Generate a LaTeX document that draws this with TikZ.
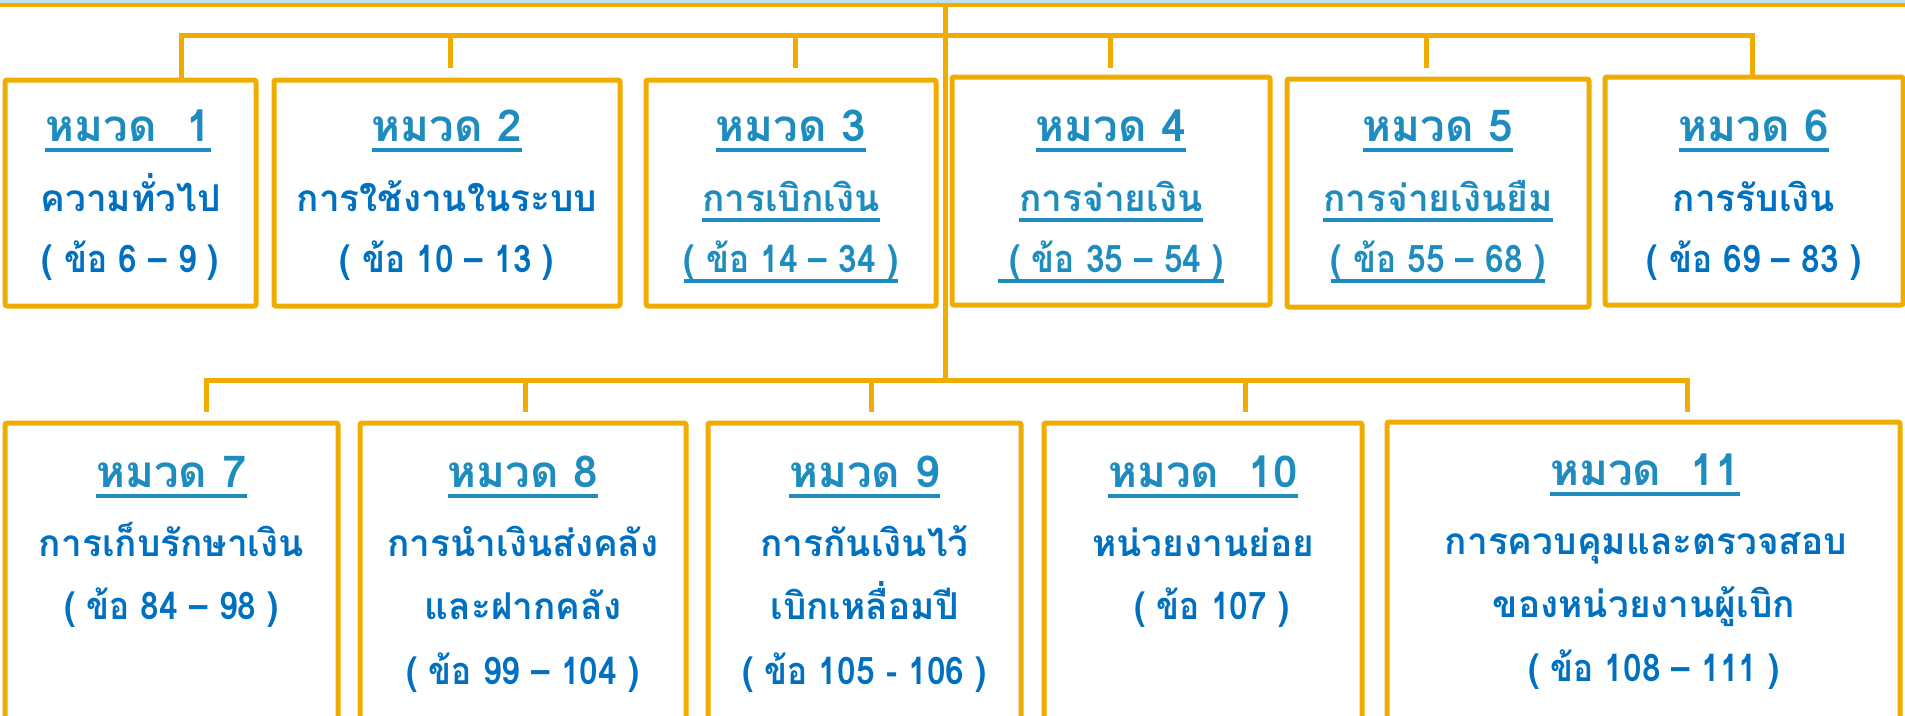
\documentclass[tikz,border=0pt]{standalone}
\usepackage{fontspec}
\newfontfamily\thai[Script=Thai]{Loma}
\newfontfamily\thaicn[Script=Thai,FakeStretch=0.88]{Loma}
\definecolor{orng}{HTML}{F0AD00}
\definecolor{tealc}{HTML}{1E8CBE}
\definecolor{bluec}{HTML}{0070C0}
\definecolor{skyc}{HTML}{BEE1EB}
\newcommand\uln[1]{\leavevmode\setbox0\hbox{#1}\rlap{\raisebox{-10.5pt}{\rule{\wd0}{3.2pt}}}\box0}
\tikzset{
  conn/.style={draw=orng, line width=5pt},
  boxs/.style={draw=orng, line width=5pt, fill=white, rounded corners=2pt, inner sep=0pt},
  topbar/.style={draw=orng, fill=skyc, line width=4pt, inner sep=0pt},
  ttl/.style={font=\thai\bfseries\fontsize{44}{50}\selectfont, text=tealc, anchor=base, inner sep=0pt},
  txt/.style={font=\thai\bfseries\fontsize{37}{44}\selectfont, text=bluec, anchor=base, inner sep=0pt},
  lnk/.style={font=\thai\bfseries\fontsize{37}{44}\selectfont, text=tealc, anchor=base, inner sep=0pt},
  num/.style={font=\thaicn\bfseries\fontsize{38}{44}\selectfont, text=bluec, anchor=base, inner sep=0pt},
  numl/.style={font=\thaicn\bfseries\fontsize{38}{44}\selectfont, text=tealc, anchor=base, inner sep=0pt}
}
\begin{document}
\begin{tikzpicture}[x=1pt,y=-1pt]
\useasboundingbox (0,0) rectangle (1905,715);
% top bar (cut off)
\node[topbar, minimum width=1960pt, minimum height=60pt, anchor=south] (top) at (952.5,7) {};
% row 1 boxes
\node[boxs, minimum width=251pt, minimum height=226pt] (b1) at (130.5,193) {};
\node[boxs, minimum width=346pt, minimum height=226pt] (b2) at (447,193) {};
\node[boxs, minimum width=290pt, minimum height=226pt] (b3) at (791,193) {};
\node[boxs, minimum width=318pt, minimum height=228pt] (b4) at (1111,191) {};
\node[boxs, minimum width=302pt, minimum height=228pt] (b5) at (1438,193) {};
\node[boxs, minimum width=298pt, minimum height=228pt] (b6) at (1754,191) {};
% row 2 boxes (cut off at the bottom)
\node[boxs, minimum width=333pt, minimum height=337pt] (b7) at (171.5,591.5) {};
\node[boxs, minimum width=326pt, minimum height=337pt] (b8) at (523,591.5) {};
\node[boxs, minimum width=313pt, minimum height=337pt] (b9) at (864.5,591.5) {};
\node[boxs, minimum width=318pt, minimum height=337pt] (b10) at (1203,591.5) {};
\node[boxs, minimum width=513pt, minimum height=339pt] (b11) at (1643.5,591.5) {};
% connectors
\coordinate (t0) at (945,7);
\coordinate (h1) at (945,35);
\coordinate (h2) at (945,380.5);
\coordinate (d1) at (181,35);
\coordinate (d2) at (450,35);
\coordinate (d3) at (795,35);
\coordinate (d4) at (1110,35);
\coordinate (d5) at (1426,35);
\coordinate (d6) at (1752,35);
\coordinate (e2) at (450,68);
\coordinate (e3) at (795,68);
\coordinate (e4) at (1110,68);
\coordinate (e5) at (1426,68);
\coordinate (d7) at (206,380.5);
\coordinate (d8) at (525,380.5);
\coordinate (d9) at (871,380.5);
\coordinate (d10) at (1245,380.5);
\coordinate (d11) at (1687,380.5);
\coordinate (e7) at (206,412);
\coordinate (e8) at (525,412);
\coordinate (e9) at (871,412);
\coordinate (e10) at (1245,412);
\coordinate (e11) at (1687,412);
\draw[conn] (t0) -- (h2);
\draw[conn] (d1 |- b1.north) -- (d1) -- (d6) -- (d6 |- b6.north);
\draw[conn] (d2) -- (e2);
\draw[conn] (d3) -- (e3);
\draw[conn] (d4) -- (e4);
\draw[conn] (d5) -- (e5);
\draw[conn] (e7) -- (d7) -- (d11) -- (e11);
\draw[conn] (d8) -- (e8);
\draw[conn] (d9) -- (e9);
\draw[conn] (d10) -- (e10);
% row 1 texts
\node[ttl] (t1a) at (128,141) {\uln{หมวด~~1}};
\node[txt] (t1b) at (130.5,211) {ความทั่วไป};
\node[num] (t1c) at (130.5,272) {( ข้อ 6 – 9 )};
\node[ttl] (t2a) at (447,141) {\uln{หมวด 2}};
\node[txt] (t2b) at (447,211) {การใช้งานในระบบ};
\node[num] (t2c) at (447,272) {( ข้อ 10 – 13 )};
\node[ttl] (t3a) at (791,141) {\uln{หมวด 3}};
\node[lnk] (t3b) at (791,211) {\uln{การเบิกเงิน}};
\node[numl] (t3c) at (791,272) {\uln{( ข้อ 14 – 34 )}};
\node[ttl] (t4a) at (1111,141) {\uln{หมวด 4}};
\node[lnk] (t4b) at (1111,211) {\uln{การจ่ายเงิน}};
\node[numl] (t4c) at (1111,272) {\uln{~( ข้อ 35 – 54 )}};
\node[ttl] (t5a) at (1438,141) {\uln{หมวด 5}};
\node[lnk] (t5b) at (1438,211) {\uln{การจ่ายเงินยืม}};
\node[numl] (t5c) at (1438,272) {\uln{( ข้อ 55 – 68 )}};
\node[ttl] (t6a) at (1754,141) {\uln{หมวด 6}};
\node[txt] (t6b) at (1754,211) {การรับเงิน};
\node[num] (t6c) at (1754,272) {( ข้อ 69 – 83 )};
% row 2 texts
\node[ttl] (t7a) at (171.5,487) {\uln{หมวด 7}};
\node[txt] (t7b) at (171.5,556) {การเก็บรักษาเงิน};
\node[num] (t7c) at (171.5,619) {( ข้อ 84 – 98 )};
\node[ttl] (t8a) at (523,487) {\uln{หมวด 8}};
\node[txt] (t8b) at (523,556) {การนำเงินส่งคลัง};
\node[txt] (t8c) at (523,619) {และฝากคลัง};
\node[num] (t8d) at (523,684) {( ข้อ 99 – 104 )};
\node[ttl] (t9a) at (864.5,487) {\uln{หมวด 9}};
\node[txt] (t9b) at (864.5,556) {การกันเงินไว้};
\node[txt] (t9c) at (864.5,619) {เบิกเหลื่อมปี};
\node[num] (t9d) at (864.5,684) {( ข้อ 105 - 106 )};
\node[ttl] (t10a) at (1203,487) {\uln{หมวด~~10}};
\node[txt] (t10b) at (1203,556) {หน่วยงานย่อย};
\node[num] (t10c) at (1212,619) {( ข้อ 107 )};
\node[ttl] (t11a) at (1645,485) {\uln{หมวด~~11}};
\node[txt] (t11b) at (1646,554) {การควบคุมและตรวจสอบ};
\node[txt] (t11c) at (1644,617) {ของหน่วยงานผู้เบิก};
\node[num] (t11d) at (1654,681) {( ข้อ 108 – 111 )};
\end{tikzpicture}
\end{document}
